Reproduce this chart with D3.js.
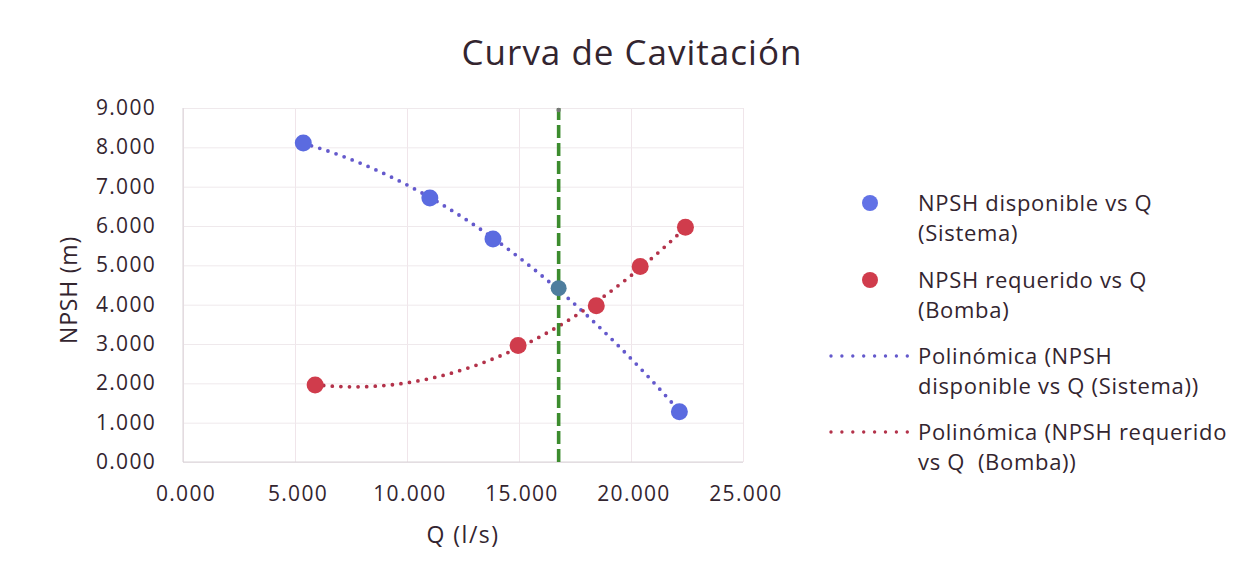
<!DOCTYPE html>
<html>
<head>
<meta charset="utf-8">
<script src="https://cdn.jsdelivr.net/npm/d3@7"></script>
<style>
  body { margin: 0; background: #fff; }
  text { font-family: "Open Sans", sans-serif; fill: #33252f; }
</style>
</head>
<body>
<div id="chart"></div>
<script>
// data
const qDisponible = [5.37, 11.02, 13.84, 22.16];
const npshDisponible = [8.11, 6.71, 5.67, 1.28];
const qOperacion = [16.77];
const npshOperacion = [4.42];
const qRequerido = [5.9, 14.96, 18.45, 20.41, 22.43];
const npshRequerido = [1.96, 2.96, 3.97, 4.97, 5.97];
const xTicks = [0, 5, 10, 15, 20, 25];
const xTickLabels = ["0.000", "5.000", "10.000", "15.000", "20.000", "25.000"];
const yTicks = [0, 1, 2, 3, 4, 5, 6, 7, 8, 9];
const yTickLabels = ["0.000", "1.000", "2.000", "3.000", "4.000", "5.000", "6.000", "7.000", "8.000", "9.000"];
const legendLabels = [
  ["NPSH disponible vs Q", "(Sistema)"],
  ["NPSH requerido vs Q", "(Bomba)"],
  ["Polinómica (NPSH", "disponible vs Q (Sistema))"],
  ["Polinómica (NPSH requerido", "vs Q  (Bomba))"]
];

const width = 1258, height = 579;
const plotLeft = 183, plotRight = 743, plotTop = 108, plotBottom = 462;

const svg = d3.select("#chart").append("svg")
  .attr("width", width)
  .attr("height", height);

const x = d3.scaleLinear().domain([0, 25]).range([plotLeft, plotRight]);
const y = d3.scaleLinear().domain([0, 9]).range([plotBottom, plotTop]);

// gridlines
svg.append("g")
  .attr("transform", `translate(0,${plotBottom})`)
  .call(d3.axisBottom(x).tickValues(xTicks).tickSize(-(plotBottom - plotTop)).tickFormat(""))
  .call(g => g.select(".domain").remove())
  .selectAll("line").attr("stroke", "#f0e5ea");
svg.append("g")
  .attr("transform", `translate(${plotLeft},0)`)
  .call(d3.axisLeft(y).tickValues(yTicks).tickSize(-(plotRight - plotLeft)).tickFormat(""))
  .call(g => g.select(".domain").remove())
  .selectAll("line").attr("stroke", "#efe9ec");

// axis lines
svg.append("line").attr("x1", plotLeft).attr("x2", plotLeft).attr("y1", plotTop).attr("y2", plotBottom)
  .attr("stroke", "#d8d2d6");
svg.append("line").attr("x1", plotLeft).attr("x2", plotRight).attr("y1", plotBottom).attr("y2", plotBottom)
  .attr("stroke", "#d8d2d6");

// tick labels
svg.append("g").selectAll("text")
  .data(xTicks)
  .join("text")
  .attr("x", d => x(d) + 3)
  .attr("y", 501)
  .attr("text-anchor", "middle")
  .attr("font-size", 21)
  .attr("letter-spacing", 1.3)
  .text((d, i) => xTickLabels[i]);

svg.append("g").selectAll("text")
  .data(yTicks)
  .join("text")
  .attr("x", 156)
  .attr("y", d => y(d) + 7)
  .attr("text-anchor", "end")
  .attr("font-size", 21)
  .attr("letter-spacing", 1.3)
  .text((d, i) => yTickLabels[i]);

// titles
svg.append("text")
  .attr("x", 632).attr("y", 65)
  .attr("text-anchor", "middle")
  .attr("font-size", 35)
  .attr("letter-spacing", 1)
  .text("Curva de Cavitación");

svg.append("text")
  .attr("x", 463).attr("y", 543)
  .attr("text-anchor", "middle")
  .attr("font-size", 23)
  .attr("letter-spacing", 1.5)
  .text("Q (l/s)");

svg.append("text")
  .attr("transform", "translate(77,290) rotate(-90)")
  .attr("text-anchor", "middle")
  .attr("font-size", 23)
  .attr("letter-spacing", 0.8)
  .text("NPSH (m)");

// least squares polynomial fit (like Excel "Polinómica", order 2)
function polyFit(xs, ys, order) {
  const n = order + 1;
  const A = [];
  for (let r = 0; r < n; r++) {
    A.push([]);
    for (let c = 0; c < n; c++) A[r].push(d3.sum(xs, v => Math.pow(v, r + c)));
    A[r].push(d3.sum(xs, (v, i) => Math.pow(v, r) * ys[i]));
  }
  for (let i = 0; i < n; i++) {
    for (let k = i + 1; k < n; k++) {
      const f = A[k][i] / A[i][i];
      for (let j = i; j <= n; j++) A[k][j] -= f * A[i][j];
    }
  }
  const coef = new Array(n).fill(0);
  for (let i = n - 1; i >= 0; i--) {
    let s = A[i][n];
    for (let j = i + 1; j < n; j++) s -= A[i][j] * coef[j];
    coef[i] = s / A[i][i];
  }
  return v => coef.reduce((acc, c, i) => acc + c * Math.pow(v, i), 0);
}

const line = d3.line().x(d => x(d[0])).y(d => y(d[1]));

function trend(xs, ys, color) {
  const f = polyFit(xs, ys, 2);
  const x0 = d3.min(xs), x1 = d3.max(xs);
  const pts = d3.range(0, 61).map(i => {
    const v = x0 + (x1 - x0) * i / 60;
    return [v, f(v)];
  });
  svg.append("path")
    .attr("d", line(pts))
    .attr("fill", "none")
    .attr("stroke", color)
    .attr("stroke-width", 3.8)
    .attr("stroke-linecap", "round")
    .attr("stroke-dasharray", "0 8.6");
}

const qDispAll = qDisponible.concat(qOperacion);
const npshDispAll = npshDisponible.concat(npshOperacion);
trend(qDispAll, npshDispAll, "#6459cc");
trend(qRequerido, npshRequerido, "#b3324a");

// operating flow line
svg.append("path")
  .attr("d", line([[qOperacion[0], 0], [qOperacion[0], 9]]))
  .attr("stroke", "#3c8c2e")
  .attr("stroke-width", 3.6)
  .attr("stroke-dasharray", "13 5");
svg.append("circle")
  .attr("cx", x(qOperacion[0])).attr("cy", y(9) + 2)
  .attr("r", 2.2).attr("fill", "#777");

// markers
svg.append("g").selectAll("circle")
  .data(qDisponible)
  .join("circle")
  .attr("cx", d => x(d))
  .attr("cy", (d, i) => y(npshDisponible[i]))
  .attr("r", 8.5)
  .attr("fill", "#5b6be0");

svg.append("g").selectAll("circle")
  .data(qRequerido)
  .join("circle")
  .attr("cx", d => x(d))
  .attr("cy", (d, i) => y(npshRequerido[i]))
  .attr("r", 8.5)
  .attr("fill", "#d03c4c");

svg.append("g").selectAll("circle")
  .data(qOperacion)
  .join("circle")
  .attr("cx", d => x(d))
  .attr("cy", (d, i) => y(npshOperacion[i]))
  .attr("r", 8)
  .attr("fill", "#4e7d9e");

// legend
const legendY = [203, 280, 356, 432];
const legend = svg.append("g");
legend.append("circle").attr("cx", 870).attr("cy", legendY[0]).attr("r", 8).attr("fill", "#6272e6");
legend.append("circle").attr("cx", 870).attr("cy", legendY[1]).attr("r", 8).attr("fill", "#d03c4c");
[["#6459cc", legendY[2]], ["#b3324a", legendY[3]]].forEach(([c, ly]) => {
  legend.append("line")
    .attr("x1", 831).attr("x2", 908).attr("y1", ly).attr("y2", ly)
    .attr("stroke", c).attr("stroke-width", 3.4)
    .attr("stroke-linecap", "round").attr("stroke-dasharray", "0 10.9");
});
legendLabels.forEach((lines, i) => {
  lines.forEach((t, j) => {
    legend.append("text")
      .attr("x", 918)
      .attr("y", legendY[i] + 8 + j * 30)
      .attr("font-size", 22)
      .attr("letter-spacing", 0.7)
      .style("white-space", "pre")
      .text(t);
  });
});
</script>
</body>
</html>
